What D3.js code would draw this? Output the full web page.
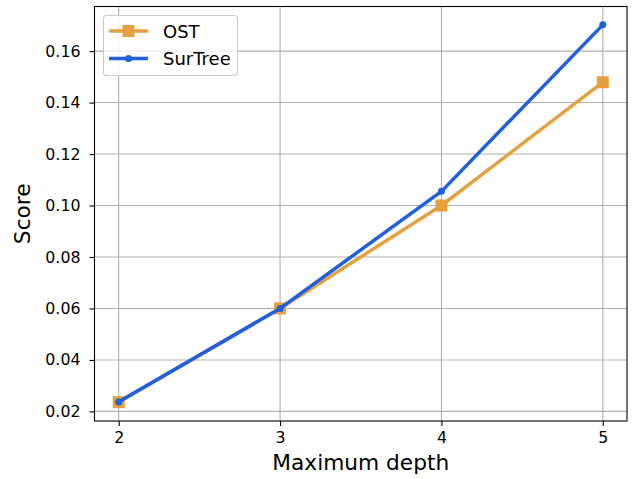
<!DOCTYPE html>
<html><head><meta charset="utf-8">
<script src="https://cdn.jsdelivr.net/npm/d3@7"></script>
<style>body{margin:0;background:#fff}svg{display:block}text{font-family:"DejaVu Sans",sans-serif}</style>
</head><body><svg id="c" width="641" height="479"></svg>
<script>
const depths = [2, 3, 4, 5];
const ostScores = [0.0236, 0.0600, 0.1000, 0.1479];
const surTreeScores = [0.0237, 0.0600, 0.1055, 0.1702];
const yTicks = [0.02, 0.04, 0.06, 0.08, 0.10, 0.12, 0.14, 0.16];
const xTicks = [2, 3, 4, 5];
const seriesNames = ["OST", "SurTree"];
const colors = {OST: "#e5a03f", SurTree: "#1f5fe0"};

const svg = d3.select("#c");
const L = 94.5, R = 627, T = 6.5, B = 421;
const x = d3.scaleLinear().domain([1.85, 5.15]).range([L, R]);
const y = d3.scaleLinear().domain([0.01627, 0.17733]).range([B, T]);

// grid
const g = svg.append("g");
g.selectAll(".gx").data(xTicks).enter().append("line")
  .attr("x1", d => x(d)).attr("x2", d => x(d)).attr("y1", T).attr("y2", B)
  .attr("stroke", "#b0b0b0").attr("stroke-width", 1.1);
g.selectAll(".gy").data(yTicks).enter().append("line")
  .attr("y1", d => y(d)).attr("y2", d => y(d)).attr("x1", L).attr("x2", R)
  .attr("stroke", "#b0b0b0").attr("stroke-width", 1.1);

// axes
const xa = svg.append("g").attr("transform", `translate(0,${B})`)
  .call(d3.axisBottom(x).tickValues(xTicks).tickFormat(d3.format("d")).tickSize(5).tickPadding(6));
const ya = svg.append("g").attr("transform", `translate(${L},0)`)
  .call(d3.axisLeft(y).tickValues(yTicks).tickFormat(d3.format(".2f")).tickSize(5).tickPadding(9));
[xa, ya].forEach(a => {
  a.attr("font-size", 15.8).attr("font-family", "DejaVu Sans");
  a.select(".domain").remove();
  a.selectAll("text").attr("font-size", 15.8).attr("fill", "#000");
  a.selectAll("line").attr("stroke", "#000").attr("stroke-width", 1.1);
});
svg.append("rect").attr("x", L).attr("y", T).attr("width", R - L).attr("height", B - T)
  .attr("fill", "none").attr("stroke", "#000").attr("stroke-width", 1.1);

// labels
svg.append("text").attr("x", (L + R) / 2).attr("y", 469.5).attr("text-anchor", "middle")
  .attr("font-size", 21.7).text("Maximum depth");
svg.append("text").attr("transform", `translate(30,${(T + B) / 2}) rotate(-90)`)
  .attr("text-anchor", "middle").attr("font-size", 21.7).text("Score");

// lines
const line = d3.line().x((d, i) => x(depths[i])).y(d => y(d));
const plot = svg.append("g");
plot.append("path").datum(ostScores).attr("d", line).attr("fill", "none")
  .attr("stroke", colors.OST).attr("stroke-width", 3.5).attr("stroke-linejoin", "round").attr("stroke-linecap", "square");
plot.selectAll(".sq").data(ostScores).enter().append("rect")
  .attr("x", (d, i) => x(depths[i]) - 6).attr("y", d => y(d) - 6).attr("width", 12).attr("height", 12)
  .attr("fill", colors.OST);
plot.append("path").datum(surTreeScores).attr("d", line).attr("fill", "none")
  .attr("stroke", colors.SurTree).attr("stroke-width", 3.5).attr("stroke-linejoin", "round").attr("stroke-linecap", "square");
plot.selectAll(".dot").data(surTreeScores).enter().append("circle")
  .attr("cx", (d, i) => x(depths[i])).attr("cy", d => y(d)).attr("r", 3.5)
  .attr("fill", colors.SurTree);

// legend
const lg = svg.append("g");
lg.append("rect").attr("x", 103.5).attr("y", 15.5).attr("width", 134).attr("height", 60).attr("rx", 3)
  .attr("fill", "#fff").attr("fill-opacity", 0.8).attr("stroke", "#cccccc").attr("stroke-width", 1.1);
seriesNames.forEach((n, i) => {
  const cy = 31 + i * 27.5;
  lg.append("line").attr("x1", 109).attr("x2", 148).attr("y1", cy).attr("y2", cy)
    .attr("stroke", colors[n]).attr("stroke-width", 3.5);
  if (n === "OST") lg.append("rect").attr("x", 122.5).attr("y", cy - 6).attr("width", 12).attr("height", 12).attr("fill", colors[n]);
  else lg.append("circle").attr("cx", 128.5).attr("cy", cy).attr("r", 3.5).attr("fill", colors[n]);
  lg.append("text").attr("x", 163).attr("y", cy + 6.5).attr("font-size", 18).text(n);
});
</script></body></html>
